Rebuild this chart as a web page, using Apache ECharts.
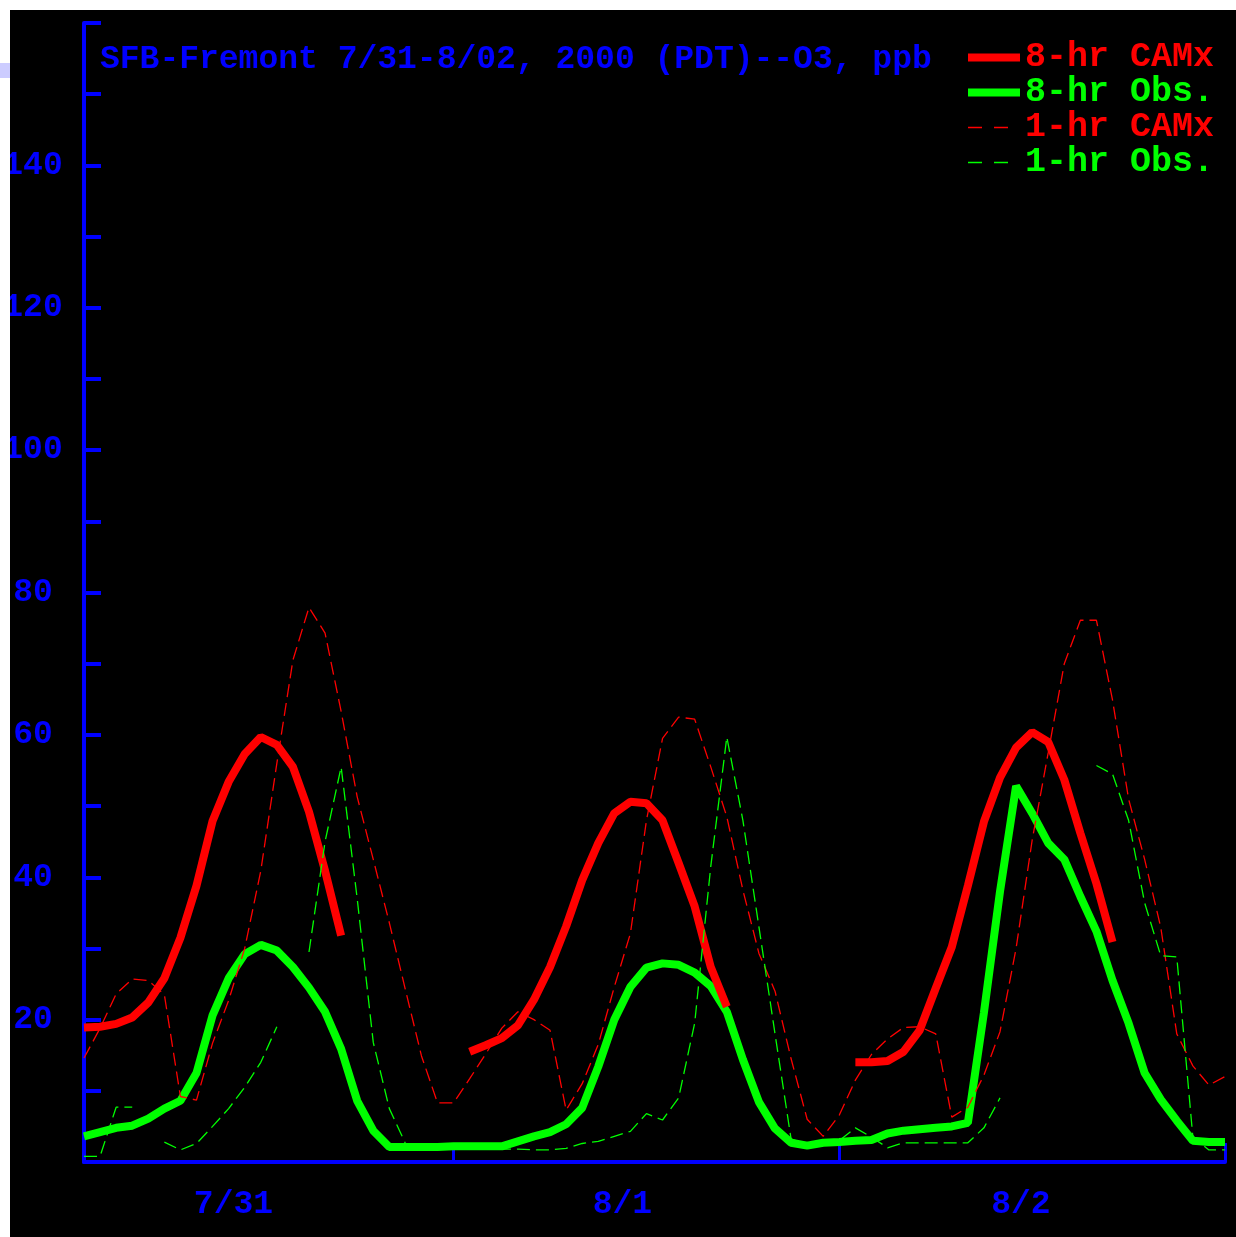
<!DOCTYPE html>
<html>
<head>
<meta charset="utf-8">
<script src="https://cdn.jsdelivr.net/npm/echarts@6/dist/echarts.min.js"></script>
<style>
  html, body { margin: 0; padding: 0; background: #ffffff; overflow: hidden; }
  #chart { width: 1236px; height: 1237px; }
</style>
</head>
<body>
<div id="chart"></div>
<script>
// ---- data (hourly, hour 1 .. 72 of 7/31 - 8/02, 2000 PDT) ----
const TITLE = 'SFB-Fremont 7/31-8/02, 2000 (PDT)--O3, ppb';
const SERIES_NAMES = ['8-hr CAMx', '8-hr Obs.', '1-hr CAMx', '1-hr Obs.'];
const DAY_LABELS = ['7/31', '8/1', '8/2'];
const DAY_LABEL_HOURS = [10.3, 34.5, 59.3];
const DAY_TICK_HOURS = [24, 48, 72];
const Y_LABELS = [20, 40, 60, 80, 100, 120, 140];

const CAMX_8HR = [
  18.9, 19.0, 19.4, 20.3, 22.4, 25.8, 31.5, 38.8, 47.9, 53.4, 57.3, 59.7, 58.6, 55.5, 49.2, 40.9, 31.8,
  null, null, null, null, null, null, null,
  15.5, 16.4, 17.4, 19.2, 22.8, 27.4, 33.1, 39.6, 44.8, 49.0, 50.6, 50.4, 48.0, 42.0, 35.9, 27.4, 21.8,
  null, null, null, null, null, null, null,
  14.0, 14.0, 14.2, 15.5, 18.5, 24.4, 30.2, 38.8, 47.8, 54.0, 58.2, 60.4, 59.0, 53.7, 46.2, 39.1, 30.9,
  null, null, null, null, null, null, null
];
const OBS_8HR = [
  3.6, 4.2, 4.8, 5.1, 6.1, 7.5, 8.6, 12.5, 20.6, 25.8, 29.2, 30.5, 29.7, 27.4, 24.5, 21.1, 15.9, 8.6, 4.4, 2.1, 2.1, 2.1, 2.1, 2.2,
  2.2, 2.2, 2.2, 2.9, 3.6, 4.2, 5.3, 7.6, 13.4, 20.0, 24.6, 27.3, 27.9, 27.7, 26.6, 24.7, 21.1, 14.4, 8.4, 4.7, 2.7, 2.3, 2.7, 2.8,
  3.0, 3.1, 4.0, 4.4, 4.6, 4.8, 5.0, 5.5, 21.0, 38.0, 52.8, 49.0, 44.8, 42.5, 37.3, 32.4, 25.5, 19.5, 12.5, 8.8, 5.8, 3.0, 2.8, 2.8
];
const CAMX_1HR = [
  14.6, 18.8, 23.6, 25.7, 25.5, 23.5, 9.2, 8.7, 16.7, 22.7, 30.0, 40.9, 56.0, 70.5, 77.9, 74.3, 63.3, 51.3, 42.5, 33.6, 24.2, 14.9, 8.3, 8.3,
  11.7, 15.2, 18.8, 21.1, 20.0, 18.5, 7.3, 11.0, 16.5, 24.6, 32.1, 48.0, 59.5, 62.5, 62.2, 55.5, 48.5, 38.2, 29.3, 24.0, 14.5, 6.0, 3.6, 6.6,
  11.5, 15.1, 17.3, 18.9, 19.0, 18.0, 6.3, 7.7, 12.2, 18.3, 30.0, 45.2, 57.5, 70.0, 76.1, 76.1, 64.9, 51.0, 42.5, 33.0, 18.0, 13.5, 10.8, 12.0
];
const OBS_1HR = [
  0.8, 0.8, 7.7, 7.7, null, 2.8, 1.7, 2.6, 5.0, 7.5, 10.5, 14.0, 19.0, null, 29.5, 45.0, 55.5, 37.0, 16.8, 7.5, 2.6, 2.0, 2.0, 2.0,
  2.0, 2.0, 1.8, 1.8, 1.7, 1.7, 1.9, 2.6, 2.9, 3.6, 4.3, 6.8, 5.9, 9.0, 19.5, 41.5, 59.7, 48.0, 33.0, 18.0, 3.2, 2.5, 2.5, 3.0,
  4.8, 3.5, 2.0, 2.7, 2.7, 2.7, 2.7, 2.7, 4.8, 9.0, null, null, null, null, null, 55.7, 54.5, 48.0, 36.4, 29.0, 28.8, 3.5, 1.7, 1.7
];

// ---- helpers ----
const RED = '#ff0000', GREEN = '#00ff00', BLUE = '#0000ff';
const FONT = 'Liberation Mono';
function pairs(vals) { return vals.map((v, i) => [i + 1, v]); }

const chart = echarts.init(document.getElementById('chart'), null, { renderer: 'canvas' });

const thick = 8, thin = 1.3, dash = [13, 6];

chart.setOption({
  animation: false,
  backgroundColor: '#ffffff',
  graphic: [
    { type: 'rect', z: -100, silent: true, shape: { x: 10, y: 10, width: 1226, height: 1227 }, style: { fill: '#000000' } },
    { type: 'rect', z: 100, silent: true, shape: { x: 0, y: 0, width: 10, height: 1237 }, style: { fill: '#ffffff' } },
    { type: 'rect', z: 100, silent: true, shape: { x: 0, y: 0, width: 1236, height: 10 }, style: { fill: '#ffffff' } },
    { type: 'rect', z: 101, silent: true, shape: { x: 0, y: 63, width: 10, height: 15 }, style: { fill: '#ccccff' } }
  ],
  title: {
    text: TITLE,
    left: 100, top: 43, padding: 0,
    textStyle: { color: BLUE, fontFamily: FONT, fontWeight: 'bold', fontSize: 33, lineHeight: 34 }
  },
  legend: {
    orient: 'vertical',
    left: 964, top: 40, padding: 0,
    itemWidth: 52, itemHeight: 2, itemGap: 0,
    selectedMode: false,
    itemStyle: { opacity: 0, borderWidth: 0 },
    textStyle: { fontFamily: FONT, fontWeight: 'bold', fontSize: 35, lineHeight: 35 },
    data: [
      { name: SERIES_NAMES[0], textStyle: { color: RED }, lineStyle: { width: thick, color: RED, type: 'solid' } },
      { name: SERIES_NAMES[1], textStyle: { color: GREEN }, lineStyle: { width: thick, color: GREEN, type: 'solid' } },
      { name: SERIES_NAMES[2], textStyle: { color: RED }, lineStyle: { width: 1.5, color: RED, type: [14, 12] } },
      { name: SERIES_NAMES[3], textStyle: { color: GREEN }, lineStyle: { width: 1.5, color: GREEN, type: [14, 12] } }
    ]
  },
  grid: { left: 84, top: 23, width: 1141, height: 1139, containLabel: false },
  xAxis: {
    type: 'value', min: 1, max: 72,
    axisLine: { lineStyle: { color: BLUE, width: 4 } },
    axisTick: { show: true, inside: true, length: 19, customValues: DAY_TICK_HOURS, lineStyle: { color: BLUE, width: 3 } },
    axisLabel: {
      customValues: DAY_LABEL_HOURS,
      formatter: v => DAY_LABELS[DAY_LABEL_HOURS.indexOf(v)] || '',
      color: BLUE, fontFamily: FONT, fontWeight: 'bold', fontSize: 33, margin: 26
    },
    splitLine: { show: false }
  },
  yAxis: {
    type: 'value', min: 0, max: 160, interval: 10,
    axisLine: { show: true, lineStyle: { color: BLUE, width: 4 } },
    axisTick: { show: true, inside: true, length: 17, lineStyle: { color: BLUE, width: 4 } },
    axisLabel: {
      formatter: v => (Y_LABELS.indexOf(v) >= 0 ? String(v) : ''),
      color: BLUE, fontFamily: FONT, fontWeight: 'bold', fontSize: 33,
      align: 'center', margin: 51, padding: [5, 0, 0, 0]
    },
    splitLine: { show: false }
  },
  series: [
    { name: SERIES_NAMES[1], type: 'line', data: pairs(OBS_8HR), symbol: 'none', connectNulls: false,
      lineStyle: { color: GREEN, width: thick }, itemStyle: { color: GREEN } },
    { name: SERIES_NAMES[0], type: 'line', data: pairs(CAMX_8HR), symbol: 'none', connectNulls: false,
      lineStyle: { color: RED, width: thick }, itemStyle: { color: RED } },
    { name: SERIES_NAMES[2], type: 'line', data: pairs(CAMX_1HR), symbol: 'none', connectNulls: false,
      lineStyle: { color: RED, width: thin, type: dash }, itemStyle: { color: RED } },
    { name: SERIES_NAMES[3], type: 'line', data: pairs(OBS_1HR), symbol: 'none', connectNulls: false,
      lineStyle: { color: GREEN, width: thin, type: dash }, itemStyle: { color: GREEN } }
  ]
});
</script>
</body>
</html>
